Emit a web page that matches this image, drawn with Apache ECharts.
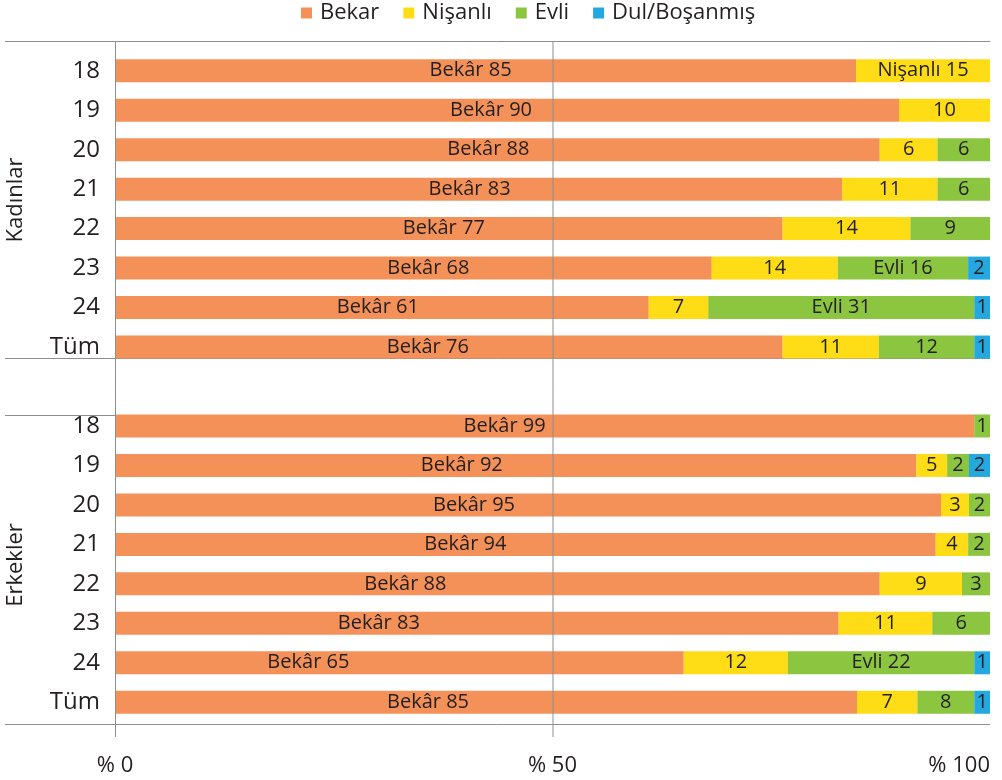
<!DOCTYPE html>
<html>
<head>
<meta charset="utf-8">
<script src="https://cdn.jsdelivr.net/npm/echarts@6/dist/echarts.min.js"></script>
<style>
  html, body { margin: 0; padding: 0; background: #fff; }
  #chart { width: 1002px; height: 780px; }
</style>
</head>
<body>
<div id="chart"></div>
<script>
// rows of each group (top to bottom)
var ages = ['18', '19', '20', '21', '22', '23', '24', 'Tüm'];
var seriesNames = ['Bekar', 'Nişanlı', 'Evli', 'Dul/Boşanmış'];

// Kadınlar - segment widths (%)
var bekarK   = [84.7, 89.6, 87.4, 83.1, 76.3, 68.2, 61.0, 76.3];
var nisanliK = [15.3, 10.4, 6.6, 10.9, 14.6, 14.4, 6.8, 11.0];
var evliK    = [null, null, 6.0, 6.0, 9.1, 14.9, 30.4, 10.9];
var dulK     = [null, null, null, null, null, 2.5, 1.8, 1.8];
// Kadınlar - printed labels
var bekarKLbl   = ['Bekâr 85', 'Bekâr 90', 'Bekâr 88', 'Bekâr 83', 'Bekâr 77', 'Bekâr 68', 'Bekâr 61', 'Bekâr 76'];
var nisanliKLbl = ['Nişanlı 15', '10', '6', '11', '14', '14', '7', '11'];
var evliKLbl    = ['', '', '6', '6', '9', 'Evli 16', 'Evli 31', '12'];
var dulKLbl     = ['', '', '', '', '', '2', '1', '1'];

// Erkekler - segment widths (%)
var bekarE   = [98.2, 91.6, 94.4, 93.8, 87.4, 82.7, 65.0, 84.8];
var nisanliE = [null, 3.5, 3.2, 3.7, 9.4, 10.7, 11.9, 6.9];
var evliE    = [1.8, 2.5, 2.4, 2.5, 3.2, 6.6, 21.3, 6.5];
var dulE     = [null, 2.4, null, null, null, null, 1.8, 1.8];
// Erkekler - printed labels
var bekarELbl   = ['Bekâr 99', 'Bekâr 92', 'Bekâr 95', 'Bekâr 94', 'Bekâr 88', 'Bekâr 83', 'Bekâr 65', 'Bekâr 85'];
var nisanliELbl = ['', '5', '3', '4', '9', '11', '12', '7'];
var evliELbl    = ['1', '2', '2', '2', '3', '6', 'Evli 22', '8'];
var dulELbl     = ['', '2', '', '', '', '', '1', '1'];

var xTicks = [0, 50, 100];

var colors = ['#F49159', '#FEDC16', '#8CC540', '#23A9E0'];
var textColor = '#231F20';
var lineColor = '#8E8E8E';
var font = 'Open Sans';

// the Bekâr labels in the original are not centred in their bars: nudge them (px)
var bekarLabelShift = [-15, -16, -9, -9, -5, 15, -4, -21, 0, -40, -54, -54, -60, -92, -98, -91, -58];

// one blank row between the groups
var categories = ages.concat(['']).concat(ages);
function join(a, b) { return a.concat([null]).concat(b); }

var values = [join(bekarK, bekarE), join(nisanliK, nisanliE), join(evliK, evliE), join(dulK, dulE)];
var labels = [join(bekarKLbl, bekarELbl), join(nisanliKLbl, nisanliELbl), join(evliKLbl, evliELbl), join(dulKLbl, dulELbl)];

var gridLeft = 115, gridRight = 990, gridTop = 51, gridBottom = 722;

var series = seriesNames.map(function (name, i) {
    return {
        name: name,
        type: 'bar',
        stack: 'total',
        barWidth: 23,
        data: values[i].map(function (v, j) {
            if (i === 0) return { value: v, label: { offset: [bekarLabelShift[j], 0] } };
            return v;
        }),
        itemStyle: { color: colors[i] },
        label: {
            show: true,
            position: 'inside',
            color: textColor,
            fontFamily: font,
            fontSize: 20,
            formatter: function (p) { return labels[i][p.dataIndex] || ''; }
        },
        emphasis: { disabled: true }
    };
});

function hline(y, x1, x2, z) {
    return { type: 'line', z: z, shape: { x1: x1, y1: y, x2: x2, y2: y }, style: { stroke: lineColor, lineWidth: 1 } };
}
function vline(x, z) {
    return { type: 'line', z: z, shape: { x1: x, y1: 41.5, x2: x, y2: 737 }, style: { stroke: lineColor, lineWidth: 1 } };
}

var chart = echarts.init(document.getElementById('chart'));
chart.setOption({
    animation: false,
    legend: {
        data: seriesNames,
        left: 301,
        top: 2,
        icon: 'rect',
        itemWidth: 11,
        itemHeight: 11,
        itemGap: 24,
        padding: 0,
        textStyle: { fontFamily: font, fontSize: 22, color: textColor, padding: [0, 0, 0, 3] }
    },
    grid: { left: gridLeft, right: 1002 - gridRight, top: gridTop, bottom: 780 - gridBottom, containLabel: false },
    xAxis: {
        type: 'value',
        min: 0,
        max: 100,
        interval: 50,
        axisLine: { show: false },
        axisTick: { show: false },
        splitLine: { show: false },
        axisLabel: {
            margin: 33,
            color: textColor,
            fontFamily: font,
            fontSize: 22,
            alignMaxLabel: 'right',
            formatter: function (v) { return xTicks.indexOf(v) >= 0 ? '% ' + v : ''; }
        }
    },
    yAxis: {
        type: 'category',
        inverse: true,
        data: categories,
        axisLine: { show: false },
        axisTick: { show: false },
        axisLabel: { margin: 15, color: textColor, fontFamily: font, fontSize: 24 }
    },
    series: series,
    graphic: [
        hline(41.5, 5, gridRight, 0),
        hline(358.5, 5, gridRight, 0),
        hline(415.5, 5, gridRight, 0),
        hline(724.5, 5, gridRight, 0),
        vline(gridLeft + 0.5, 100),
        vline((gridLeft + gridRight) / 2 + 0.5, 100),
        {
            type: 'text', x: 16, y: 200, rotation: Math.PI / 2,
            style: { text: 'Kadınlar', fill: textColor, font: '22px "Open Sans"', align: 'center', verticalAlign: 'middle' }
        },
        {
            type: 'text', x: 16, y: 565, rotation: Math.PI / 2,
            style: { text: 'Erkekler', fill: textColor, font: '22px "Open Sans"', align: 'center', verticalAlign: 'middle' }
        }
    ]
});
</script>
</body>
</html>
